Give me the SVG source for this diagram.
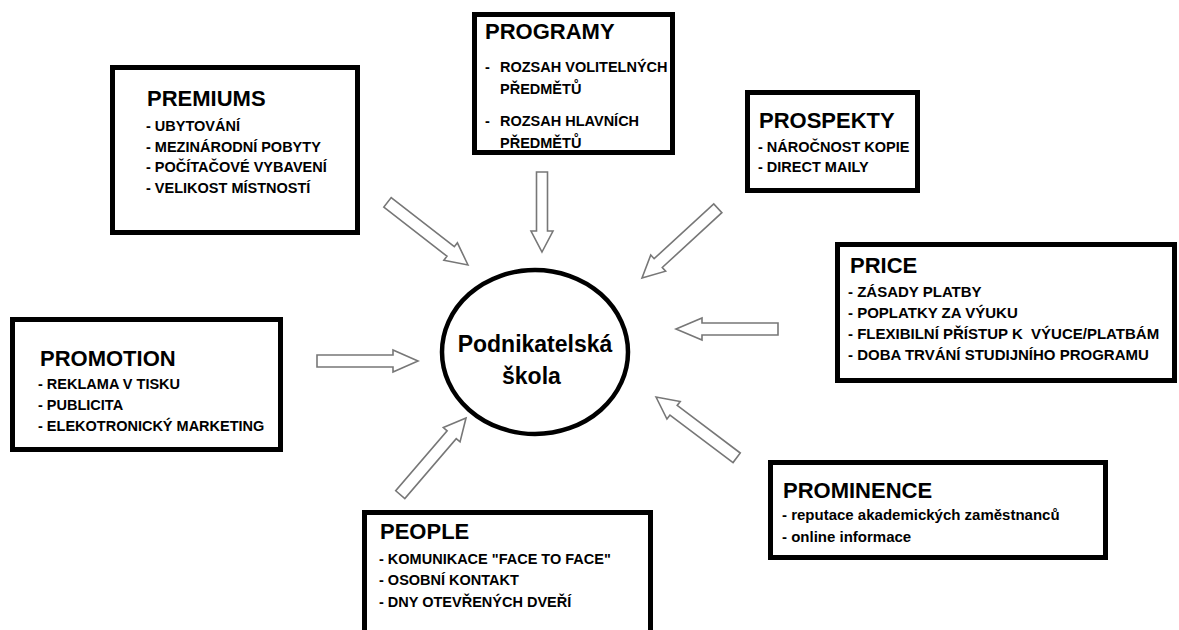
<svg xmlns="http://www.w3.org/2000/svg" width="1179" height="630" viewBox="0 0 1179 630">
  <style>
    .box { fill: #fff; stroke: #000; stroke-width: 5; }
    .hub { fill: #fff; stroke: #000; stroke-width: 4.5; }
    .title { font-family: "Liberation Sans", Arial, sans-serif; font-weight: bold; font-size: 22px; fill: #000; }
    .item { font-family: "Liberation Sans", Arial, sans-serif; font-weight: bold; font-size: 14.5px; fill: #000; }
    .wide { font-size: 15px; }
    .hubtext { font-family: "Liberation Sans", Arial, sans-serif; font-weight: bold; font-size: 23px; fill: #000; }
    .arrow { fill: #fff; stroke: #777; stroke-width: 1.6; stroke-linejoin: miter; }
  </style>
  <rect width="1179" height="630" fill="#fff"/>

  <!-- hollow block arrows, tip at origin pointing along +x -->
  <g id="connectors">
    <path class="arrow" transform="translate(542,252) rotate(90)" d="M0,0 L-21,-11 L-21,-5.5 L-80,-5.5 L-80,5.5 L-21,5.5 L-21,11 Z"/>
    <path class="arrow" transform="translate(468,265) rotate(37.9)" d="M0,0 L-22,-11 L-22,-6 L-102,-6 L-102,6 L-22,6 L-22,11 Z"/>
    <path class="arrow" transform="translate(642,278) rotate(137.4)" d="M0,0 L-22,-11 L-22,-6 L-103,-6 L-103,6 L-22,6 L-22,11 Z"/>
    <path class="arrow" transform="translate(418,361)" d="M0,0 L-25,-11 L-25,-6 L-101,-6 L-101,6 L-25,6 L-25,11 Z"/>
    <path class="arrow" transform="translate(676,329) rotate(180)" d="M0,0 L-26,-11 L-26,-6 L-102,-6 L-102,6 L-26,6 L-26,11 Z"/>
    <path class="arrow" transform="translate(656,397) rotate(-143)" d="M0,0 L-22,-11 L-22,-6 L-101,-6 L-101,6 L-22,6 L-22,11 Z"/>
    <path class="arrow" transform="translate(466,418) rotate(-49.4)" d="M0,0 L-22,-11 L-22,-6 L-101,-6 L-101,6 L-22,6 L-22,11 Z"/>
  </g>

  <g id="hub">
    <ellipse class="hub" cx="535" cy="352" rx="93" ry="82"/>
    <text class="hubtext" x="535" y="352" text-anchor="middle">Podnikatelská</text>
    <text class="hubtext" x="502" y="384">škola</text>
  </g>

  <g id="premiums">
    <rect class="box" x="112.5" y="67.5" width="245" height="165"/>
    <text class="title" x="147" y="106">PREMIUMS</text>
    <text class="item" x="146" y="131">- UBYTOVÁNÍ</text>
    <text class="item" x="146" y="152">- MEZINÁRODNÍ POBYTY</text>
    <text class="item" x="146" y="172">- POČÍTAČOVÉ VYBAVENÍ</text>
    <text class="item" x="146" y="193">- VELIKOST MÍSTNOSTÍ</text>
  </g>

  <g id="programy">
    <rect class="box" x="474.5" y="14.5" width="198" height="138"/>
    <text class="title" x="485" y="39">PROGRAMY</text>
    <text class="item" y="72"><tspan x="485">-</tspan><tspan x="500">ROZSAH VOLITELNÝCH</tspan></text>
    <text class="item" x="500" y="94">PŘEDMĚTŮ</text>
    <text class="item" y="126"><tspan x="485">-</tspan><tspan x="500">ROZSAH HLAVNÍCH</tspan></text>
    <text class="item" x="500" y="148">PŘEDMĚTŮ</text>
  </g>

  <g id="prospekty">
    <rect class="box" x="747.5" y="92.5" width="170" height="98"/>
    <text class="title" x="759" y="128">PROSPEKTY</text>
    <text class="item" x="758" y="152">- NÁROČNOST KOPIE</text>
    <text class="item" x="758" y="172">- DIRECT MAILY</text>
  </g>

  <g id="price">
    <rect class="box" x="837.5" y="244.5" width="337" height="136"/>
    <text class="title" x="850" y="273">PRICE</text>
    <text class="item wide" x="848" y="297">- ZÁSADY PLATBY</text>
    <text class="item wide" x="848" y="318">- POPLATKY ZA VÝUKU</text>
    <text class="item wide" x="848" y="339" xml:space="preserve">- FLEXIBILNÍ PŘÍSTUP K  VÝUCE/PLATBÁM</text>
    <text class="item wide" x="848" y="360">- DOBA TRVÁNÍ STUDIJNÍHO PROGRAMU</text>
  </g>

  <g id="promotion">
    <rect class="box" x="12.5" y="319.5" width="268" height="130"/>
    <text class="title" x="40" y="366">PROMOTION</text>
    <text class="item" x="38" y="389">- REKLAMA V TISKU</text>
    <text class="item" x="38" y="410">- PUBLICITA</text>
    <text class="item" x="38" y="431">- ELEKOTRONICKÝ MARKETING</text>
  </g>

  <g id="people">
    <rect class="box" x="364.5" y="512.5" width="286" height="125"/>
    <text class="title" x="380" y="539">PEOPLE</text>
    <text class="item" x="379" y="564">- KOMUNIKACE "FACE TO FACE"</text>
    <text class="item" x="379" y="585">- OSOBNÍ KONTAKT</text>
    <text class="item" x="379" y="607">- DNY OTEVŘENÝCH DVEŘÍ</text>
  </g>

  <g id="prominence">
    <rect class="box" x="770.5" y="462.5" width="335" height="95"/>
    <text class="title" x="783" y="498">PROMINENCE</text>
    <text class="item wide" x="782" y="520">- reputace akademických zaměstnanců</text>
    <text class="item wide" x="782" y="542">- online informace</text>
  </g>
</svg>
